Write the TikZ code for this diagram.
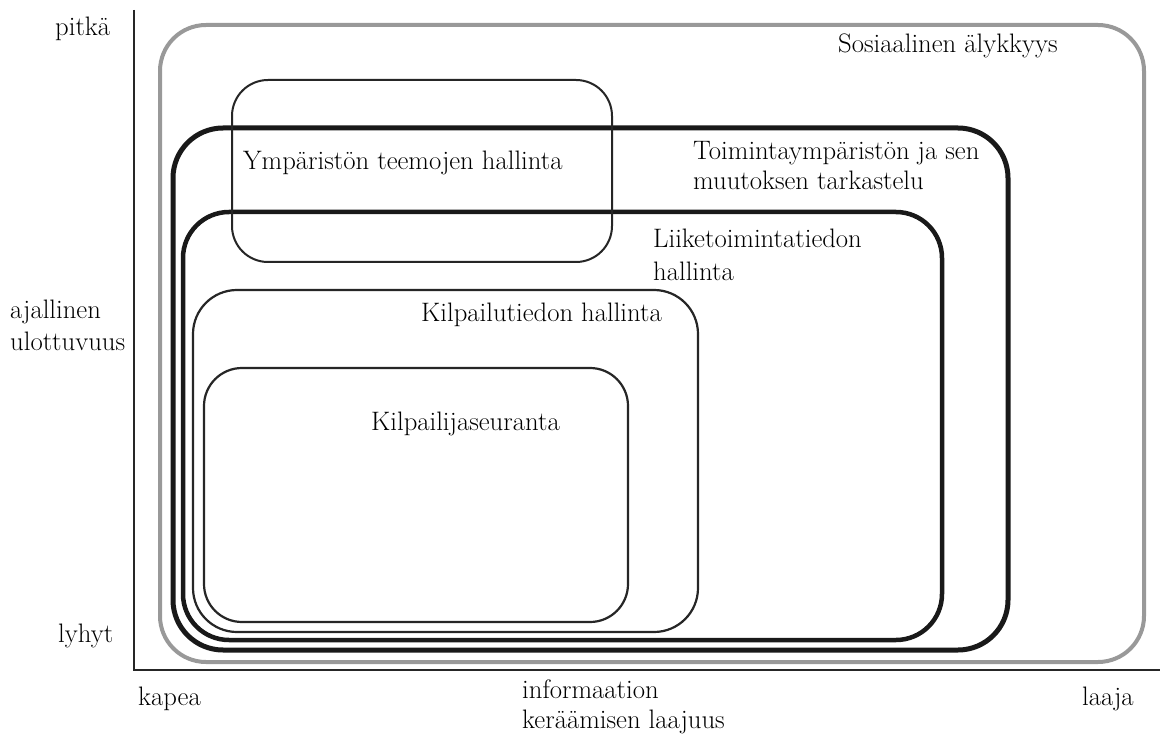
\documentclass[tikz,border=0pt]{standalone}
\begin{document}
\begin{tikzpicture}[x=1pt,y=-1pt,
  lbl/.style={anchor=base west, inner sep=0pt, font=\fontsize{26.7}{31}\selectfont},
  axisline/.style={draw=black!85, line width=2.5pt},
  outerframe/.style={draw=black!40, line width=4pt, rounded corners=46pt},
  heavyframe/.style={draw=black!90, line width=5pt, rounded corners=50pt},
  midframe/.style={draw=black!90, line width=4.5pt, rounded corners=46pt},
  thinframe/.style={draw=black!85, line width=2.2pt, rounded corners=#1},
  thinframe/.default=44pt]
  % canvas
  \fill[white] (0,0) rectangle (1160,738);
  \useasboundingbox (0,0) rectangle (1160,738);

  % axes
  \coordinate (ytop) at (134,10);
  \coordinate (origin) at (134,670);
  \coordinate (xend) at (1160,670);
  \draw[axisline] (ytop) -- (origin) -- (xend);

  % nested areas
  \draw[outerframe] (160,25) rectangle (1144,662);
  \draw[heavyframe] (173,128) rectangle (1008,650);
  \draw[midframe] (183,212) rectangle (942,640);
  \draw[thinframe] (193,290) rectangle (698,632);
  \draw[thinframe=38pt] (204,368) rectangle (628,622);
  \draw[thinframe=36pt, line width=2pt] (232,80) rectangle (612,262);

  % area labels
  \node[lbl] (sos) at (838,53) {Sosiaalinen älykkyys};
  \node[lbl] (ymp) at (243,170) {Ympäristön teemojen hallinta};
  \node[lbl] (toim1) at (693,160) {Toimintaympäristön ja sen};
  \node[lbl] (toim2) at (693,190) {muutoksen tarkastelu};
  \node[lbl] (liike1) at (653,248) {Liiketoimintatiedon};
  \node[lbl] (liike2) at (653,280) {hallinta};
  \node[lbl] (kilpt) at (421,322) {Kilpailutiedon hallinta};
  \node[lbl] (kilpa) at (371,430) {Kilpailijaseuranta};

  % axis labels
  \node[lbl] (pitka) at (55,36) {pitkä};
  \node[lbl] (ajal1) at (10,318) {ajallinen};
  \node[lbl] (ajal2) at (10,350) {ulottuvuus};
  \node[lbl] (lyhyt) at (58,642) {lyhyt};
  \node[lbl] (kapea) at (138,705) {kapea};
  \node[lbl] (info1) at (522,698) {informaation};
  \node[lbl] (info2) at (522,728) {keräämisen laajuus};
  \node[lbl] (laaja) at (1082,705) {laaja};
\end{tikzpicture}
\end{document}
